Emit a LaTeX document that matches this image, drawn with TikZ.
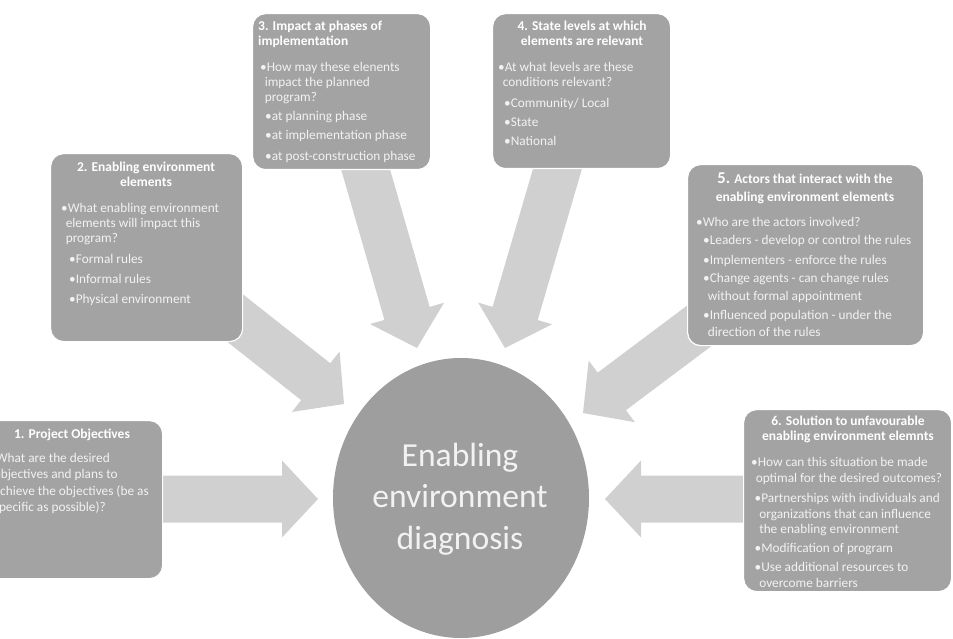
\documentclass[tikz,border=0pt]{standalone}
\usepackage{fontspec}
\setmainfont{Carlito}
\usetikzlibrary{calc}

\definecolor{panelgray}{HTML}{A3A3A3}
\definecolor{hubgray}{HTML}{9E9E9E}
\definecolor{arrowgray}{HTML}{D0D0D0}
\definecolor{bodywhite}{HTML}{F2F2F2}

% continuation indent = width of a bullet
\newcommand{\bi}{\hspace*{4.6pt}}
\newcommand{\lvl}[1]{\hspace*{#1}}

% block arrow from tail coordinate #1 to tip coordinate #2; #3 names its head base
\newcommand{\blockarrow}[3]{%
  \coordinate (#3) at ($(#2)!36pt!(#1)$);
  \fill[arrowgray]
    ($(#1)!23.5pt!90:(#2)$) -- ($(#3)!23.5pt!90:(#2)$) -- ($(#3)!38.5pt!90:(#2)$)
    -- (#2)
    -- ($(#3)!38.5pt!-90:(#2)$) -- ($(#3)!23.5pt!-90:(#2)$) -- ($(#1)!23.5pt!-90:(#2)$)
    -- cycle;
}

\begin{document}
\begin{tikzpicture}[x=1pt,y=-1pt,
  panel/.style={rounded corners=13pt, fill=panelgray, draw=white, line width=1.2pt,
    inner sep=0pt, anchor=north west},
  paneltitle/.style={font=\bfseries\fontsize{13.5}{15}\selectfont, text=white,
    inner sep=0pt, anchor=north},
  panelbody/.style={font=\fontsize{13.3}{15.2}\selectfont, text=bodywhite,
    inner sep=0pt, align=left, anchor=north west},
]
\useasboundingbox (0,0) rectangle (953,639);
\clip (0,0) rectangle (953,639);

% arrow end points
\coordinate (t1) at (150,499);  \coordinate (p1) at (318,499);
\coordinate (t2) at (202,292);  \coordinate (p2) at (344,404);
\coordinate (t3) at (360,150);  \coordinate (p3) at (417,348);
\coordinate (t4) at (563,150);  \coordinate (p4) at (505,348);
\coordinate (t5) at (727,305);  \coordinate (p5) at (583,413);
\coordinate (t6) at (770,499);  \coordinate (p6) at (605,499);

\blockarrow{t1}{p1}{h1}
\blockarrow{t2}{p2}{h2}
\blockarrow{t3}{p3}{h3}
\blockarrow{t4}{p4}{h4}
\blockarrow{t5}{p5}{h5}
\blockarrow{t6}{p6}{h6}

% panels
\node[panel, minimum width=180pt, minimum height=158pt] (box1) at (-18,420) {};
\node[panel, minimum width=192pt, minimum height=188pt] (box2) at (50,153) {};
\node[panel, minimum width=178pt, minimum height=156pt] (box3) at (252,13) {};
\node[panel, minimum width=178pt, minimum height=155pt] (box4) at (492,13) {};
\node[panel, minimum width=236pt, minimum height=181pt] (box5) at (687,164) {};
\node[panel, minimum width=208pt, minimum height=182pt] (box6) at (743,409) {};

% central ellipse
\fill[hubgray] (461,498) ellipse [x radius=128, y radius=140];
\coordinate (hubc) at (461,498);
\node[font=\fontsize{33.6}{41.5}\selectfont, text=bodywhite, align=center, inner sep=0pt]
  (hubtext) at (460,499) {Enabling\\environment\\diagnosis};

% panel 1
\node[paneltitle] (title1) at (72,429) {1. Project Objectives};
\node[panelbody, font=\fontsize{13.3}{16.3}\selectfont] (body1) at (-11,453) {%
•What are the desired\\
\bi objectives and plans to\\
\bi achieve the objectives (be as\\
\bi specific as possible)?};

% panel 2
\node[paneltitle, align=center] (title2) at (146,162) {2. Enabling environment\\elements};
\node[panelbody] (body2) at (61,203) {%
•What enabling environment\\
\bi elements will impact this\\
\bi program?\\[5.5pt]
\lvl{8pt}•Formal rules\\[4.8pt]
\lvl{8pt}•Informal rules\\[4.8pt]
\lvl{8pt}•Physical environment};

% panel 3
\node[paneltitle, align=left, anchor=north west] (title3) at (258,21) {3. Impact at phases of\\implementation};
\node[panelbody] (body3) at (260,62) {%
•How may these elenents\\
\bi impact the planned\\
\bi program?\\[3.8pt]
\lvl{5pt}•at planning phase\\[3.8pt]
\lvl{5pt}•at implementation phase\\[5.8pt]
\lvl{5pt}•at post-construction phase};

% panel 4
\node[paneltitle, align=center] (title4) at (582,21) {4. State levels at which\\elements are relevant};
\node[panelbody] (body4) at (498,62) {%
•At what levels are these\\
\bi conditions relevant?\\[5.8pt]
\lvl{6pt}•Community/ Local\\[3.8pt]
\lvl{6pt}•State\\[3.8pt]
\lvl{6pt}•National};

% panel 5
\node[paneltitle, align=center, font=\bfseries\fontsize{13.5}{18}\selectfont] (title5) at (805,173)
  {{\fontsize{16.5}{18}\selectfont 5.} Actors that interact with the\\enabling environment elements};
\node[panelbody, font=\fontsize{13.3}{17.6}\selectfont] (body5) at (696,217) {%
•Who are the actors involved?\\[0.4pt]
\lvl{7pt}•Leaders - develop or control the rules\\[2.4pt]
\lvl{7pt}•Implementers - enforce the rules\\[0.4pt]
\lvl{7pt}•Change agents - can change rules\\
\lvl{7pt}\bi without formal appointment\\[1.4pt]
\lvl{7pt}•Influenced population - under the\\
\lvl{7pt}\bi direction of the rules};

% panel 6
\node[paneltitle, align=center] (title6) at (848,416) {6. Solution to unfavourable\\enabling environment elemnts};
\node[panelbody, font=\fontsize{13.3}{15.8}\selectfont] (body6) at (751,457) {%
•How can this situation be made\\
\bi optimal for the desired outcomes?\\[4.2pt]
\lvl{3.5pt}•Partnerships with individuals and\\
\lvl{3.5pt}\bi organizations that can influence\\
\lvl{3.5pt}\bi the enabling environment\\[3.2pt]
\lvl{3.5pt}•Modification of program\\[3.2pt]
\lvl{3.5pt}•Use additional resources to\\
\lvl{3.5pt}\bi overcome barriers};
\end{tikzpicture}
\end{document}
